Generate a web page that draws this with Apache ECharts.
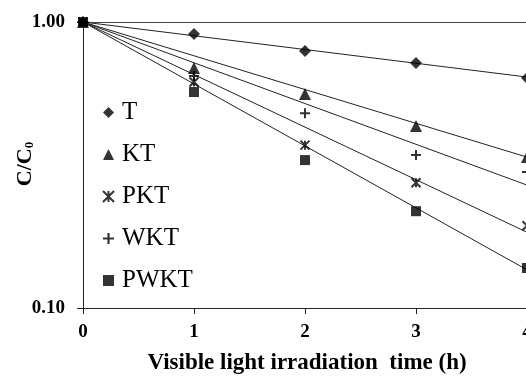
<!DOCTYPE html>
<html>
<head>
<meta charset="utf-8">
<script src="https://cdn.jsdelivr.net/npm/echarts@6/dist/echarts.min.js"></script>
<style>html,body{margin:0;padding:0;background:#fff}#c{width:526px;height:379px}</style>
</head>
<body>
<div id="c"></div>
<script>
var timeH = [0, 1, 2, 3, 4];
var xTicks = ['0', '1', '2', '3', '4'];
var yTicks = ['0.10', '1.00'];
var names = ['T', 'KT', 'PKT', 'WKT', 'PWKT'];
var T    = [1.00, 0.908, 0.792, 0.719, 0.637];
var KT   = [1.00, 0.690, 0.560, 0.433, 0.337];
var PKT  = [1.00, 0.617, 0.371, 0.274, 0.194];
var WKT  = [1.00, 0.647, 0.480, 0.343, 0.299];
var PWKT = [1.00, 0.569, 0.329, 0.218, 0.138];
// fitted line end values at t = 4 h (start at C/C0 = 1 at t = 0)
var fitEnd = [0.642, 0.337, 0.184, 0.269, 0.136];

var SERIF = 'Liberation Serif';
var starPath = 'path://M0,0L10,10M10,0L0,10M5,0L5,10';
var plusPath = 'path://M4,0H6V4H10V6H6V10H4V6H0V4H4Z';
var symbols = ['diamond', 'triangle', starPath, plusPath, 'rect'];
var sizes = [12, 12, 9, 10, 10];
var allData = [T, KT, PKT, WKT, PWKT];

var series = [];
names.forEach(function (n, i) {
  series.push({
    name: n + '_fit', type: 'line', symbol: 'none', silent: true,
    lineStyle: { color: '#222', width: 1 },
    data: [[timeH[0], 1], [timeH[timeH.length - 1], fitEnd[i]]],
    z: 2
  });
});
names.forEach(function (n, i) {
  var st = i === 2 ? { color: '#000', borderColor: '#000', borderWidth: 2 } : { color: '#000' };
  series.push({
    name: n, type: 'scatter', symbol: symbols[i], symbolSize: sizes[i],
    itemStyle: st,
    data: timeH.map(function (t, k) { return [t, allData[i][k]]; }),
    z: 3
  });
});

var chart = echarts.init(document.getElementById('c'), null, { renderer: 'canvas' });
chart.setOption({
  animation: false,
  backgroundColor: '#fff',
  grid: { left: 83, right: -1, top: 22, bottom: 71, containLabel: false, outerBoundsMode: 'none' },
  xAxis: {
    type: 'value', min: 0, max: 4, interval: 1,
    axisLine: { lineStyle: { color: '#222', width: 1 } },
    axisTick: { show: true, length: 6, lineStyle: { color: '#222' } },
    splitLine: { show: false },
    axisLabel: { color: '#000', fontFamily: SERIF, fontWeight: 'bold', fontSize: 19, margin: 15,
      formatter: function (v) { return xTicks[v]; } }
  },
  yAxis: {
    type: 'log', logBase: 10, min: 0.1, max: 1,
    axisLine: { show: true, lineStyle: { color: '#222', width: 1 } },
    axisTick: { show: true, length: 6, lineStyle: { color: '#222' } },
    splitLine: { show: true, lineStyle: { color: '#444', width: 1 } },
    minorTick: { show: false },
    axisLabel: { color: '#000', fontFamily: SERIF, fontWeight: 'bold', fontSize: 19, margin: 18,
      formatter: function (v) { return v >= 0.5 ? yTicks[1] : yTicks[0]; } }
  },
  legend: {
    orient: 'vertical', left: 97, top: 95, itemGap: 17, itemWidth: 11, itemHeight: 11,
    textStyle: { color: '#000', fontFamily: SERIF, fontSize: 25, padding: [0, 0, 0, 3] },
    data: names.map(function (n, i) {
      return { name: n, icon: symbols[i],
        textStyle: { fontFamily: SERIF, fontSize: 25, color: '#000', padding: [0, 0, 0, 3] },
        itemStyle: i === 2 ? { color: '#000', borderColor: '#000', borderWidth: 2 } : { color: '#000', borderWidth: 0 } };
    })
  },
  graphic: [
    { type: 'text', x: 307, y: 363, style: { text: 'Visible light irradiation  time (h)', fill: '#000',
      font: "bold 23px 'Liberation Serif'", align: 'center', verticalAlign: 'middle' } },
    { type: 'text', x: 25, y: 164, rotation: Math.PI / 2,
      style: { text: '{a|C/C}{b|0}', fill: '#000', align: 'center', verticalAlign: 'middle',
        rich: { a: { fontFamily: SERIF, fontWeight: 'bold', fontSize: 22, color: '#000' },
                b: { fontFamily: SERIF, fontWeight: 'bold', fontSize: 13, verticalAlign: 'bottom', padding: [10, 0, 0, 0], color: '#000' } } } }
  ],
  series: series
});
</script>
</body>
</html>
